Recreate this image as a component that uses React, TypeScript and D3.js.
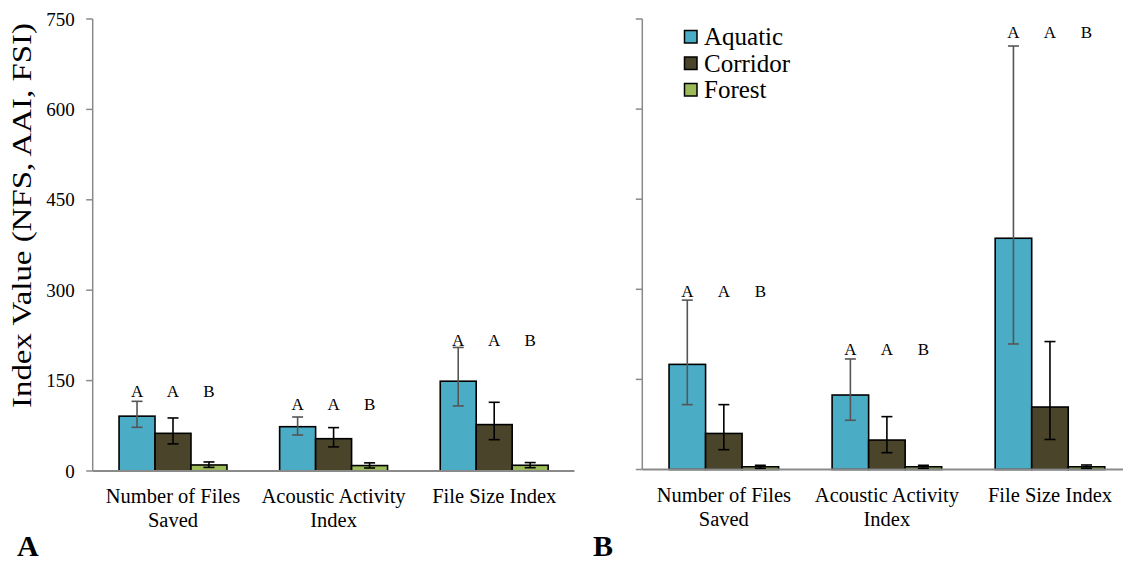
import React from "react";
import * as d3 from "d3";

// Categories and series
const categories = ["Number of Files|Saved", "Acoustic Activity|Index", "File Size Index"];
const seriesNames = ["Aquatic", "Corridor", "Forest"];
const seriesColors = ["#4BACC6", "#4A452A", "#9BBB59"];
const errorColors = ["#555555", "#000000", "#000000"];
const yTicks = [0, 150, 300, 450, 600, 750];
const groupLetters = ["A", "A", "B"];

// Panel A: means and error-bar bounds per series (rows: Aquatic, Corridor, Forest)
const meanA = [
  [91, 73.5, 149],
  [62.5, 53.6, 77],
  [10, 9, 9.5],
];
const upperA = [
  [115.6, 89.6, 205],
  [88, 72, 114],
  [15, 13.5, 14],
];
const lowerA = [
  [72.5, 59.7, 108],
  [45, 40, 52],
  [6, 5, 5.5],
];
const letterLevelA = [123, 101, 208];

// Panel B
const meanB = [
  [175, 124, 385],
  [60, 49, 104],
  [4.5, 4.5, 4.5],
];
const upperB = [
  [282, 184, 705],
  [108, 88, 213],
  [7, 7, 7.5],
];
const lowerB = [
  [108, 82, 209],
  [33, 28, 50],
  [2, 2, 2],
];
const letterLevelB = [288, 191, 718];

const FONT = "'Liberation Serif', 'Times New Roman', Times, serif";
const AXIS = "#8a8a8a";

type PanelProps = {
  x0: number;
  x1: number;
  yBase: number;
  yTop: number;
  mean: number[][];
  upper: number[][];
  lower: number[][];
  letterLevel: number[];
  showTickLabels: boolean;
};

function Panel({ x0, x1, yBase, yTop, mean, upper, lower, letterLevel, showTickLabels }: PanelProps) {
  const y = d3.scaleLinear().domain([0, 750]).range([yBase, yTop]);
  const xCat = d3.scaleBand<number>().domain(d3.range(categories.length)).range([x0, x1]).padding(0);
  const step = xCat.step();
  const groupW = step * 0.672;
  const xSer = d3
    .scaleBand<number>()
    .domain(d3.range(seriesNames.length))
    .range([(step - groupW) / 2, (step + groupW) / 2])
    .padding(0);
  const bw = xSer.bandwidth();
  const capW = 11;

  return (
    <g>
      {/* y axis */}
      <line x1={x0} x2={x0} y1={yTop} y2={yBase} stroke={AXIS} strokeWidth={1.5} />
      {yTicks.map((t) => (
        <g key={t}>
          <line x1={x0 - 6.5} x2={x0} y1={y(t)} y2={y(t)} stroke={AXIS} strokeWidth={1.5} />
          {showTickLabels && (
            <text x={x0 - 18} y={y(t)} dy="0.35em" textAnchor="end" fontSize={19} fontFamily={FONT} fill="#000">
              {t}
            </text>
          )}
        </g>
      ))}
      {/* bars */}
      {categories.map((_, ci) =>
        seriesNames.map((_, si) => {
          const bx = (xCat(ci) as number) + (xSer(si) as number);
          const v = mean[si][ci];
          return (
            <rect
              key={`b${ci}-${si}`}
              x={bx}
              y={y(v)}
              width={bw}
              height={yBase - y(v)}
              fill={seriesColors[si]}
              stroke="#000"
              strokeWidth={1.6}
            />
          );
        })
      )}
      {/* baseline */}
      <line x1={x0} x2={x1} y1={yBase} y2={yBase} stroke={AXIS} strokeWidth={1.8} />
      {/* error bars */}
      {categories.map((_, ci) =>
        seriesNames.map((_, si) => {
          const cx = (xCat(ci) as number) + (xSer(si) as number) + bw / 2;
          const yu = y(upper[si][ci]);
          const yl = y(lower[si][ci]);
          const c = errorColors[si];
          return (
            <g key={`e${ci}-${si}`} stroke={c} strokeWidth={1.6}>
              <line x1={cx} x2={cx} y1={yu} y2={yl} />
              <line x1={cx - capW / 2} x2={cx + capW / 2} y1={yu} y2={yu} />
              <line x1={cx - capW / 2} x2={cx + capW / 2} y1={yl} y2={yl} />
            </g>
          );
        })
      )}
      {/* significance letters */}
      {categories.map((_, ci) =>
        groupLetters.map((l, si) => {
          const cx = (xCat(ci) as number) + (xSer(si) as number) + bw / 2;
          return (
            <text
              key={`l${ci}-${si}`}
              x={cx}
              y={y(letterLevel[ci])}
              textAnchor="middle"
              fontSize={17}
              fontFamily={FONT}
              fill="#000"
            >
              {l}
            </text>
          );
        })
      )}
      {/* category labels */}
      {categories.map((c, ci) => {
        const cx = (xCat(ci) as number) + step / 2;
        return (
          <text key={`c${ci}`} x={cx} y={yBase + 32} textAnchor="middle" fontSize={20.5} fontFamily={FONT} fill="#000">
            {c.split("|").map((line, li) => (
              <tspan key={li} x={cx} dy={li === 0 ? 0 : 24}>
                {line}
              </tspan>
            ))}
          </text>
        );
      })}
    </g>
  );
}

export default function App() {
  return (
    <svg
      width={1123}
      height={561}
      viewBox="0 0 1123 561"
      style={{ position: "absolute", left: 0, top: 0, background: "#fff" }}
    >
      <rect width={1123} height={561} fill="#fff" />
      <Panel
        x0={92.7}
        x1={574.5}
        yBase={471}
        yTop={19}
        mean={meanA}
        upper={upperA}
        lower={lowerA}
        letterLevel={letterLevelA}
        showTickLabels={true}
      />
      <Panel
        x0={642.3}
        x1={1131.5}
        yBase={469.5}
        yTop={19}
        mean={meanB}
        upper={upperB}
        lower={lowerB}
        letterLevel={letterLevelB}
        showTickLabels={false}
      />
      {/* y-axis title */}
      <text
        transform="translate(31,215.5) rotate(-90)"
        textAnchor="middle"
        fontSize={28}
        fontFamily={FONT}
        textLength={385}
        lengthAdjust="spacingAndGlyphs"
        fill="#000"
      >
        Index Value (NFS, AAI, FSI)
      </text>
      {/* legend */}
      {seriesNames.map((s, i) => (
        <g key={s}>
          <rect x={684.5} y={30.5 + i * 26.5} width={12.5} height={12.5} fill={seriesColors[i]} stroke="#000" strokeWidth={1.5} />
          <text x={704} y={45 + i * 26.5} fontSize={25} fontFamily={FONT} fill="#000">
            {s}
          </text>
        </g>
      ))}
      {/* panel labels */}
      <text x={17} y={556} fontSize={30} fontWeight="bold" fontFamily={FONT} fill="#000">
        A
      </text>
      <text x={593} y={556} fontSize={30} fontWeight="bold" fontFamily={FONT} fill="#000">
        B
      </text>
    </svg>
  );
}
